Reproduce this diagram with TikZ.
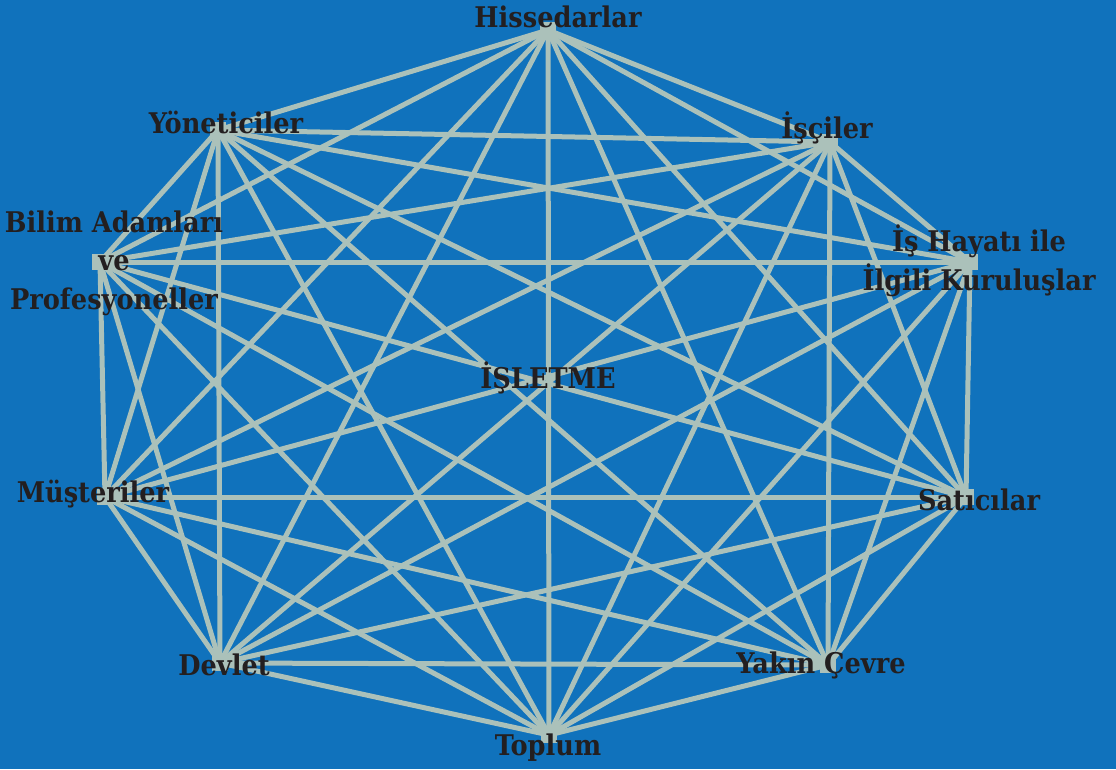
\documentclass[tikz,border=0pt]{standalone}
\usepackage{fontspec}
\setmainfont{DejaVu Serif Condensed}
\usetikzlibrary{positioning}
\definecolor{bgblue}{RGB}{16,114,188}
\definecolor{edgegray}{RGB}{171,193,186}
\definecolor{labelink}{RGB}{35,31,32}
\tikzset{
    edge/.style={draw=edgegray, line width=5pt},
    corner/.style={fill=edgegray, minimum size=16pt, inner sep=0pt},
    lbl/.style={text=labelink, font=\bfseries\fontsize{28.5}{38.5}\selectfont, align=center, inner sep=0pt}
}

\begin{document}
\begin{tikzpicture}[x=1pt, y=-1pt]
    \fill[bgblue] (0,0) rectangle (1116,769);
    \useasboundingbox (0,0) rectangle (1116,769);
    % the ten corners
    \coordinate (v1) at (548,30);
    \coordinate (v2) at (830,142);
    \coordinate (v3) at (970,262);
    \coordinate (v4) at (966,497);
    \coordinate (v5) at (828,665);
    \coordinate (v6) at (549,735);
    \coordinate (v7) at (220,663);
    \coordinate (v8) at (105,497);
    \coordinate (v9) at (100,262);
    \coordinate (v10) at (218,130);
    % every corner joined to every other one
    \foreach \i in {1,...,10} {
        \foreach \j in {1,...,10} {
            \ifnum\j>\i
                \draw[edge] (v\i) -- (v\j);
            \fi
        }
        \node[corner] (c\i) at (v\i) {};
    }
    \node[lbl] (hissedarlar) at (558,17) {Hissedarlar};
    \node[lbl] (isciler) at (827,128) {İşçiler};
    \node[lbl] (ishayati) at (979,261) {İş Hayatı ile\\İlgili Kuruluşlar};
    \node[lbl] (saticilar) at (979,500) {Satıcılar};
    \node[lbl] (yakincevre) at (821,665) {Yakın Çevre};
    \node[lbl] (toplum) at (548,748) {Toplum};
    \node[lbl] (devlet) at (224,665) {Devlet};
    \node[lbl] (musteriler) at (93,494) {Müşteriler};
    \node[lbl] (bilim) at (114,263) {Bilim Adamları\\ve\\Profesyoneller};
    \node[lbl] (yoneticiler) at (226,122) {Yöneticiler};
    \node[lbl] (isletme) at (548,378) {İŞLETME};
\end{tikzpicture}
\end{document}
